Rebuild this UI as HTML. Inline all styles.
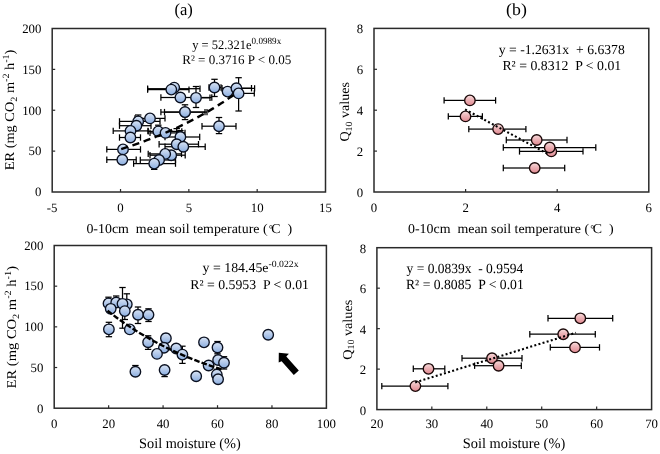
<!DOCTYPE html>
<html><head><meta charset="utf-8"><style>
html,body{margin:0;padding:0;background:#fff;width:660px;height:454px;overflow:hidden;}
svg{display:block;white-space:pre;will-change:transform;}
text{white-space:pre;text-rendering:geometricPrecision;}
</style></head><body>
<svg width="660" height="454" viewBox="0 0 660 454" font-family='"Liberation Serif", serif' fill="#000">
<defs>
<linearGradient id="gb" x1="0" y1="0" x2="0" y2="1">
<stop offset="0" stop-color="#d8e4f4"/><stop offset="0.5" stop-color="#b2c8ea"/><stop offset="1" stop-color="#8aaee0"/></linearGradient>
<linearGradient id="gr" x1="0" y1="0" x2="0" y2="1">
<stop offset="0" stop-color="#f7dede"/><stop offset="0.45" stop-color="#ecb2b6"/><stop offset="1" stop-color="#e08890"/></linearGradient>
</defs>
<rect width="660" height="454" fill="#fff"/>
<text x="52.20" y="212.00" font-size="12.8" text-anchor="middle" >-5</text>
<line x1="120.53" y1="192.00" x2="120.53" y2="189.00" stroke="#2a2a2a" stroke-width="1.2" />
<text x="120.53" y="212.00" font-size="12.8" text-anchor="middle" >0</text>
<line x1="188.85" y1="192.00" x2="188.85" y2="189.00" stroke="#2a2a2a" stroke-width="1.2" />
<text x="188.85" y="212.00" font-size="12.8" text-anchor="middle" >5</text>
<line x1="257.18" y1="192.00" x2="257.18" y2="189.00" stroke="#2a2a2a" stroke-width="1.2" />
<text x="257.18" y="212.00" font-size="12.8" text-anchor="middle" >10</text>
<text x="325.50" y="212.00" font-size="12.8" text-anchor="middle" >15</text>
<text x="41.40" y="196.30" font-size="12.8" text-anchor="end" >0</text>
<line x1="52.20" y1="151.12" x2="55.20" y2="151.12" stroke="#2a2a2a" stroke-width="1.2" />
<text x="41.40" y="155.43" font-size="12.8" text-anchor="end" >50</text>
<line x1="52.20" y1="110.25" x2="55.20" y2="110.25" stroke="#2a2a2a" stroke-width="1.2" />
<text x="41.40" y="114.55" font-size="12.8" text-anchor="end" >100</text>
<line x1="52.20" y1="69.38" x2="55.20" y2="69.38" stroke="#2a2a2a" stroke-width="1.2" />
<text x="41.40" y="73.67" font-size="12.8" text-anchor="end" >150</text>
<text x="41.40" y="32.80" font-size="12.8" text-anchor="end" >200</text>
<rect x="52.20" y="28.50" width="273.30" height="163.50" fill="none" stroke="#2a2a2a" stroke-width="1.5"/>
<line x1="147.60" y1="89.60" x2="171.30" y2="89.60" stroke="#000" stroke-width="1.25" />
<line x1="147.60" y1="86.40" x2="147.60" y2="92.80" stroke="#000" stroke-width="1.25" />
<line x1="171.30" y1="89.60" x2="189.00" y2="89.60" stroke="#000" stroke-width="1.25" />
<line x1="189.00" y1="86.40" x2="189.00" y2="92.80" stroke="#000" stroke-width="1.25" />
<line x1="160.90" y1="97.50" x2="180.40" y2="97.50" stroke="#000" stroke-width="1.25" />
<line x1="160.90" y1="94.30" x2="160.90" y2="100.70" stroke="#000" stroke-width="1.25" />
<line x1="180.40" y1="97.50" x2="211.80" y2="97.50" stroke="#000" stroke-width="1.25" />
<line x1="211.80" y1="94.30" x2="211.80" y2="100.70" stroke="#000" stroke-width="1.25" />
<line x1="196.00" y1="97.80" x2="210.00" y2="97.80" stroke="#000" stroke-width="1.25" />
<line x1="210.00" y1="94.60" x2="210.00" y2="101.00" stroke="#000" stroke-width="1.25" />
<line x1="196.00" y1="86.50" x2="196.00" y2="97.80" stroke="#000" stroke-width="1.25" />
<line x1="192.80" y1="86.50" x2="199.20" y2="86.50" stroke="#000" stroke-width="1.25" />
<line x1="196.00" y1="97.80" x2="196.00" y2="107.50" stroke="#000" stroke-width="1.25" />
<line x1="192.80" y1="107.50" x2="199.20" y2="107.50" stroke="#000" stroke-width="1.25" />
<line x1="209.00" y1="87.50" x2="214.50" y2="87.50" stroke="#000" stroke-width="1.25" />
<line x1="209.00" y1="84.30" x2="209.00" y2="90.70" stroke="#000" stroke-width="1.25" />
<line x1="214.50" y1="87.50" x2="221.00" y2="87.50" stroke="#000" stroke-width="1.25" />
<line x1="221.00" y1="84.30" x2="221.00" y2="90.70" stroke="#000" stroke-width="1.25" />
<line x1="214.50" y1="79.30" x2="214.50" y2="87.50" stroke="#000" stroke-width="1.25" />
<line x1="211.30" y1="79.30" x2="217.70" y2="79.30" stroke="#000" stroke-width="1.25" />
<line x1="214.50" y1="87.50" x2="214.50" y2="96.50" stroke="#000" stroke-width="1.25" />
<line x1="211.30" y1="96.50" x2="217.70" y2="96.50" stroke="#000" stroke-width="1.25" />
<line x1="222.00" y1="88.20" x2="236.40" y2="88.20" stroke="#000" stroke-width="1.25" />
<line x1="222.00" y1="85.00" x2="222.00" y2="91.40" stroke="#000" stroke-width="1.25" />
<line x1="236.40" y1="88.20" x2="251.50" y2="88.20" stroke="#000" stroke-width="1.25" />
<line x1="251.50" y1="85.00" x2="251.50" y2="91.40" stroke="#000" stroke-width="1.25" />
<line x1="238.60" y1="93.40" x2="254.30" y2="93.40" stroke="#000" stroke-width="1.25" />
<line x1="254.30" y1="90.20" x2="254.30" y2="96.60" stroke="#000" stroke-width="1.25" />
<line x1="238.60" y1="77.70" x2="238.60" y2="93.40" stroke="#000" stroke-width="1.25" />
<line x1="235.40" y1="77.70" x2="241.80" y2="77.70" stroke="#000" stroke-width="1.25" />
<line x1="238.60" y1="93.40" x2="238.60" y2="111.00" stroke="#000" stroke-width="1.25" />
<line x1="235.40" y1="111.00" x2="241.80" y2="111.00" stroke="#000" stroke-width="1.25" />
<line x1="160.90" y1="112.10" x2="185.00" y2="112.10" stroke="#000" stroke-width="1.25" />
<line x1="160.90" y1="108.90" x2="160.90" y2="115.30" stroke="#000" stroke-width="1.25" />
<line x1="185.00" y1="112.10" x2="207.00" y2="112.10" stroke="#000" stroke-width="1.25" />
<line x1="207.00" y1="108.90" x2="207.00" y2="115.30" stroke="#000" stroke-width="1.25" />
<line x1="185.00" y1="104.80" x2="185.00" y2="112.10" stroke="#000" stroke-width="1.25" />
<line x1="181.80" y1="104.80" x2="188.20" y2="104.80" stroke="#000" stroke-width="1.25" />
<line x1="185.00" y1="112.10" x2="185.00" y2="119.60" stroke="#000" stroke-width="1.25" />
<line x1="181.80" y1="119.60" x2="188.20" y2="119.60" stroke="#000" stroke-width="1.25" />
<line x1="164.50" y1="112.10" x2="185.00" y2="112.10" stroke="#000" stroke-width="1.25" />
<line x1="164.50" y1="108.90" x2="164.50" y2="115.30" stroke="#000" stroke-width="1.25" />
<line x1="185.00" y1="112.10" x2="205.00" y2="112.10" stroke="#000" stroke-width="1.25" />
<line x1="205.00" y1="108.90" x2="205.00" y2="115.30" stroke="#000" stroke-width="1.25" />
<line x1="202.00" y1="126.20" x2="219.00" y2="126.20" stroke="#000" stroke-width="1.25" />
<line x1="202.00" y1="123.00" x2="202.00" y2="129.40" stroke="#000" stroke-width="1.25" />
<line x1="219.00" y1="126.20" x2="236.00" y2="126.20" stroke="#000" stroke-width="1.25" />
<line x1="236.00" y1="123.00" x2="236.00" y2="129.40" stroke="#000" stroke-width="1.25" />
<line x1="219.00" y1="117.50" x2="219.00" y2="126.20" stroke="#000" stroke-width="1.25" />
<line x1="215.80" y1="117.50" x2="222.20" y2="117.50" stroke="#000" stroke-width="1.25" />
<line x1="219.00" y1="126.20" x2="219.00" y2="133.60" stroke="#000" stroke-width="1.25" />
<line x1="215.80" y1="133.60" x2="222.20" y2="133.60" stroke="#000" stroke-width="1.25" />
<line x1="119.50" y1="121.40" x2="138.20" y2="121.40" stroke="#000" stroke-width="1.25" />
<line x1="119.50" y1="118.20" x2="119.50" y2="124.60" stroke="#000" stroke-width="1.25" />
<line x1="138.20" y1="121.40" x2="160.00" y2="121.40" stroke="#000" stroke-width="1.25" />
<line x1="160.00" y1="118.20" x2="160.00" y2="124.60" stroke="#000" stroke-width="1.25" />
<line x1="138.20" y1="115.00" x2="138.20" y2="121.40" stroke="#000" stroke-width="1.25" />
<line x1="135.00" y1="115.00" x2="141.40" y2="115.00" stroke="#000" stroke-width="1.25" />
<line x1="119.50" y1="125.70" x2="136.40" y2="125.70" stroke="#000" stroke-width="1.25" />
<line x1="119.50" y1="122.50" x2="119.50" y2="128.90" stroke="#000" stroke-width="1.25" />
<line x1="136.40" y1="125.70" x2="151.00" y2="125.70" stroke="#000" stroke-width="1.25" />
<line x1="151.00" y1="122.50" x2="151.00" y2="128.90" stroke="#000" stroke-width="1.25" />
<line x1="135.00" y1="118.40" x2="150.00" y2="118.40" stroke="#000" stroke-width="1.25" />
<line x1="135.00" y1="115.20" x2="135.00" y2="121.60" stroke="#000" stroke-width="1.25" />
<line x1="150.00" y1="118.40" x2="165.00" y2="118.40" stroke="#000" stroke-width="1.25" />
<line x1="165.00" y1="115.20" x2="165.00" y2="121.60" stroke="#000" stroke-width="1.25" />
<line x1="113.20" y1="130.90" x2="130.50" y2="130.90" stroke="#000" stroke-width="1.25" />
<line x1="113.20" y1="127.70" x2="113.20" y2="134.10" stroke="#000" stroke-width="1.25" />
<line x1="130.50" y1="130.90" x2="148.00" y2="130.90" stroke="#000" stroke-width="1.25" />
<line x1="148.00" y1="127.70" x2="148.00" y2="134.10" stroke="#000" stroke-width="1.25" />
<line x1="119.50" y1="137.50" x2="130.40" y2="137.50" stroke="#000" stroke-width="1.25" />
<line x1="119.50" y1="134.30" x2="119.50" y2="140.70" stroke="#000" stroke-width="1.25" />
<line x1="130.40" y1="137.50" x2="140.50" y2="137.50" stroke="#000" stroke-width="1.25" />
<line x1="140.50" y1="134.30" x2="140.50" y2="140.70" stroke="#000" stroke-width="1.25" />
<line x1="106.80" y1="149.40" x2="123.00" y2="149.40" stroke="#000" stroke-width="1.25" />
<line x1="106.80" y1="146.20" x2="106.80" y2="152.60" stroke="#000" stroke-width="1.25" />
<line x1="123.00" y1="149.40" x2="140.50" y2="149.40" stroke="#000" stroke-width="1.25" />
<line x1="140.50" y1="146.20" x2="140.50" y2="152.60" stroke="#000" stroke-width="1.25" />
<line x1="106.80" y1="159.70" x2="122.30" y2="159.70" stroke="#000" stroke-width="1.25" />
<line x1="106.80" y1="156.50" x2="106.80" y2="162.90" stroke="#000" stroke-width="1.25" />
<line x1="122.30" y1="159.70" x2="136.20" y2="159.70" stroke="#000" stroke-width="1.25" />
<line x1="136.20" y1="156.50" x2="136.20" y2="162.90" stroke="#000" stroke-width="1.25" />
<line x1="148.20" y1="131.40" x2="158.30" y2="131.40" stroke="#000" stroke-width="1.25" />
<line x1="148.20" y1="128.20" x2="148.20" y2="134.60" stroke="#000" stroke-width="1.25" />
<line x1="158.30" y1="131.40" x2="181.80" y2="131.40" stroke="#000" stroke-width="1.25" />
<line x1="181.80" y1="128.20" x2="181.80" y2="134.60" stroke="#000" stroke-width="1.25" />
<line x1="158.30" y1="125.20" x2="158.30" y2="131.40" stroke="#000" stroke-width="1.25" />
<line x1="155.10" y1="125.20" x2="161.50" y2="125.20" stroke="#000" stroke-width="1.25" />
<line x1="150.00" y1="132.90" x2="165.50" y2="132.90" stroke="#000" stroke-width="1.25" />
<line x1="150.00" y1="129.70" x2="150.00" y2="136.10" stroke="#000" stroke-width="1.25" />
<line x1="165.50" y1="132.90" x2="185.00" y2="132.90" stroke="#000" stroke-width="1.25" />
<line x1="185.00" y1="129.70" x2="185.00" y2="136.10" stroke="#000" stroke-width="1.25" />
<line x1="165.00" y1="137.00" x2="180.40" y2="137.00" stroke="#000" stroke-width="1.25" />
<line x1="165.00" y1="133.80" x2="165.00" y2="140.20" stroke="#000" stroke-width="1.25" />
<line x1="180.40" y1="137.00" x2="199.70" y2="137.00" stroke="#000" stroke-width="1.25" />
<line x1="199.70" y1="133.80" x2="199.70" y2="140.20" stroke="#000" stroke-width="1.25" />
<line x1="180.40" y1="130.60" x2="180.40" y2="137.00" stroke="#000" stroke-width="1.25" />
<line x1="177.20" y1="130.60" x2="183.60" y2="130.60" stroke="#000" stroke-width="1.25" />
<line x1="159.10" y1="144.20" x2="176.70" y2="144.20" stroke="#000" stroke-width="1.25" />
<line x1="159.10" y1="141.00" x2="159.10" y2="147.40" stroke="#000" stroke-width="1.25" />
<line x1="176.70" y1="144.20" x2="198.50" y2="144.20" stroke="#000" stroke-width="1.25" />
<line x1="198.50" y1="141.00" x2="198.50" y2="147.40" stroke="#000" stroke-width="1.25" />
<line x1="176.70" y1="128.60" x2="176.70" y2="144.20" stroke="#000" stroke-width="1.25" />
<line x1="173.50" y1="128.60" x2="179.90" y2="128.60" stroke="#000" stroke-width="1.25" />
<line x1="165.00" y1="146.70" x2="183.30" y2="146.70" stroke="#000" stroke-width="1.25" />
<line x1="165.00" y1="143.50" x2="165.00" y2="149.90" stroke="#000" stroke-width="1.25" />
<line x1="183.30" y1="146.70" x2="205.20" y2="146.70" stroke="#000" stroke-width="1.25" />
<line x1="205.20" y1="143.50" x2="205.20" y2="149.90" stroke="#000" stroke-width="1.25" />
<line x1="150.00" y1="155.20" x2="171.20" y2="155.20" stroke="#000" stroke-width="1.25" />
<line x1="150.00" y1="152.00" x2="150.00" y2="158.40" stroke="#000" stroke-width="1.25" />
<line x1="171.20" y1="155.20" x2="185.20" y2="155.20" stroke="#000" stroke-width="1.25" />
<line x1="185.20" y1="152.00" x2="185.20" y2="158.40" stroke="#000" stroke-width="1.25" />
<line x1="148.20" y1="153.90" x2="165.20" y2="153.90" stroke="#000" stroke-width="1.25" />
<line x1="148.20" y1="150.70" x2="148.20" y2="157.10" stroke="#000" stroke-width="1.25" />
<line x1="165.20" y1="153.90" x2="181.50" y2="153.90" stroke="#000" stroke-width="1.25" />
<line x1="181.50" y1="150.70" x2="181.50" y2="157.10" stroke="#000" stroke-width="1.25" />
<line x1="140.30" y1="160.00" x2="159.10" y2="160.00" stroke="#000" stroke-width="1.25" />
<line x1="140.30" y1="156.80" x2="140.30" y2="163.20" stroke="#000" stroke-width="1.25" />
<line x1="159.10" y1="160.00" x2="175.50" y2="160.00" stroke="#000" stroke-width="1.25" />
<line x1="175.50" y1="156.80" x2="175.50" y2="163.20" stroke="#000" stroke-width="1.25" />
<line x1="133.60" y1="163.60" x2="154.20" y2="163.60" stroke="#000" stroke-width="1.25" />
<line x1="133.60" y1="160.40" x2="133.60" y2="166.80" stroke="#000" stroke-width="1.25" />
<line x1="154.20" y1="163.60" x2="175.50" y2="163.60" stroke="#000" stroke-width="1.25" />
<line x1="175.50" y1="160.40" x2="175.50" y2="166.80" stroke="#000" stroke-width="1.25" />
<line x1="154.20" y1="163.60" x2="154.20" y2="169.40" stroke="#000" stroke-width="1.25" />
<line x1="151.00" y1="169.40" x2="157.40" y2="169.40" stroke="#000" stroke-width="1.25" />
<line x1="147.60" y1="88.70" x2="175.30" y2="88.70" stroke="#000" stroke-width="1.25" />
<line x1="147.60" y1="85.50" x2="147.60" y2="91.90" stroke="#000" stroke-width="1.25" />
<line x1="175.30" y1="88.70" x2="200.00" y2="88.70" stroke="#000" stroke-width="1.25" />
<line x1="200.00" y1="85.50" x2="200.00" y2="91.90" stroke="#000" stroke-width="1.25" />
<line x1="236.40" y1="88.40" x2="254.60" y2="88.40" stroke="#000" stroke-width="1.25" />
<line x1="254.60" y1="85.20" x2="254.60" y2="91.60" stroke="#000" stroke-width="1.25" />
<circle cx="174.20" cy="87.60" r="5.25" fill="url(#gb)" stroke="#0a1020" stroke-width="1.35"/>
<circle cx="171.30" cy="89.60" r="5.25" fill="url(#gb)" stroke="#0a1020" stroke-width="1.35"/>
<circle cx="180.40" cy="97.50" r="5.25" fill="url(#gb)" stroke="#0a1020" stroke-width="1.35"/>
<circle cx="196.00" cy="97.80" r="5.25" fill="url(#gb)" stroke="#0a1020" stroke-width="1.35"/>
<circle cx="214.50" cy="87.50" r="5.25" fill="url(#gb)" stroke="#0a1020" stroke-width="1.35"/>
<circle cx="227.60" cy="91.60" r="5.25" fill="url(#gb)" stroke="#0a1020" stroke-width="1.35"/>
<circle cx="236.40" cy="88.20" r="5.25" fill="url(#gb)" stroke="#0a1020" stroke-width="1.35"/>
<circle cx="238.60" cy="93.40" r="5.25" fill="url(#gb)" stroke="#0a1020" stroke-width="1.35"/>
<circle cx="185.00" cy="112.10" r="5.25" fill="url(#gb)" stroke="#0a1020" stroke-width="1.35"/>
<circle cx="185.00" cy="112.10" r="5.25" fill="url(#gb)" stroke="#0a1020" stroke-width="1.35"/>
<circle cx="219.00" cy="126.20" r="5.25" fill="url(#gb)" stroke="#0a1020" stroke-width="1.35"/>
<circle cx="138.20" cy="121.40" r="5.25" fill="url(#gb)" stroke="#0a1020" stroke-width="1.35"/>
<circle cx="136.40" cy="125.70" r="5.25" fill="url(#gb)" stroke="#0a1020" stroke-width="1.35"/>
<circle cx="150.00" cy="118.40" r="5.25" fill="url(#gb)" stroke="#0a1020" stroke-width="1.35"/>
<circle cx="130.50" cy="130.90" r="5.25" fill="url(#gb)" stroke="#0a1020" stroke-width="1.35"/>
<circle cx="130.40" cy="137.50" r="5.25" fill="url(#gb)" stroke="#0a1020" stroke-width="1.35"/>
<circle cx="123.00" cy="149.40" r="5.25" fill="url(#gb)" stroke="#0a1020" stroke-width="1.35"/>
<circle cx="122.30" cy="159.70" r="5.25" fill="url(#gb)" stroke="#0a1020" stroke-width="1.35"/>
<circle cx="158.30" cy="131.40" r="5.25" fill="url(#gb)" stroke="#0a1020" stroke-width="1.35"/>
<circle cx="165.50" cy="132.90" r="5.25" fill="url(#gb)" stroke="#0a1020" stroke-width="1.35"/>
<circle cx="180.40" cy="137.00" r="5.25" fill="url(#gb)" stroke="#0a1020" stroke-width="1.35"/>
<circle cx="176.70" cy="144.20" r="5.25" fill="url(#gb)" stroke="#0a1020" stroke-width="1.35"/>
<circle cx="183.30" cy="146.70" r="5.25" fill="url(#gb)" stroke="#0a1020" stroke-width="1.35"/>
<circle cx="171.20" cy="155.20" r="5.25" fill="url(#gb)" stroke="#0a1020" stroke-width="1.35"/>
<circle cx="165.20" cy="153.90" r="5.25" fill="url(#gb)" stroke="#0a1020" stroke-width="1.35"/>
<circle cx="159.10" cy="160.00" r="5.25" fill="url(#gb)" stroke="#0a1020" stroke-width="1.35"/>
<circle cx="154.20" cy="163.60" r="5.25" fill="url(#gb)" stroke="#0a1020" stroke-width="1.35"/>
<polyline points="121.21,149.02 124.07,148.12 126.93,147.20 129.79,146.26 132.65,145.31 135.51,144.33 138.36,143.33 141.22,142.32 144.08,141.28 146.94,140.22 149.80,139.13 152.66,138.03 155.52,136.90 158.38,135.75 161.24,134.57 164.10,133.37 166.96,132.14 169.82,130.89 172.68,129.61 175.54,128.31 178.40,126.98 181.26,125.62 184.12,124.23 186.97,122.81 189.83,121.37 192.69,119.89 195.55,118.38 198.41,116.84 201.27,115.27 204.13,113.67 206.99,112.03 209.85,110.36 212.71,108.65 215.57,106.91 218.43,105.13 221.29,103.31 224.15,101.45 227.01,99.56 229.87,97.63 232.72,95.65 235.58,93.64" fill="none" stroke="#000" stroke-width="2.4" stroke-dasharray="7.2,4.6"/>
<text x="374.00" y="212.20" font-size="12.8" text-anchor="middle" >0</text>
<line x1="465.60" y1="192.00" x2="465.60" y2="189.00" stroke="#2a2a2a" stroke-width="1.2" />
<text x="465.60" y="212.20" font-size="12.8" text-anchor="middle" >2</text>
<line x1="557.20" y1="192.00" x2="557.20" y2="189.00" stroke="#2a2a2a" stroke-width="1.2" />
<text x="557.20" y="212.20" font-size="12.8" text-anchor="middle" >4</text>
<text x="648.80" y="212.20" font-size="12.8" text-anchor="middle" >6</text>
<text x="363.20" y="196.80" font-size="12.8" text-anchor="end" >0</text>
<line x1="374.00" y1="151.10" x2="377.00" y2="151.10" stroke="#2a2a2a" stroke-width="1.2" />
<text x="363.20" y="155.90" font-size="12.8" text-anchor="end" >2</text>
<line x1="374.00" y1="110.20" x2="377.00" y2="110.20" stroke="#2a2a2a" stroke-width="1.2" />
<text x="363.20" y="115.00" font-size="12.8" text-anchor="end" >4</text>
<line x1="374.00" y1="69.30" x2="377.00" y2="69.30" stroke="#2a2a2a" stroke-width="1.2" />
<text x="363.20" y="74.10" font-size="12.8" text-anchor="end" >6</text>
<text x="363.20" y="33.20" font-size="12.8" text-anchor="end" >8</text>
<rect x="374.00" y="28.40" width="274.80" height="163.60" fill="none" stroke="#2a2a2a" stroke-width="1.5"/>
<line x1="444.10" y1="100.40" x2="469.90" y2="100.40" stroke="#000" stroke-width="1.25" />
<line x1="444.10" y1="97.20" x2="444.10" y2="103.60" stroke="#000" stroke-width="1.25" />
<line x1="469.90" y1="100.40" x2="495.60" y2="100.40" stroke="#000" stroke-width="1.25" />
<line x1="495.60" y1="97.20" x2="495.60" y2="103.60" stroke="#000" stroke-width="1.25" />
<line x1="448.30" y1="116.40" x2="465.50" y2="116.40" stroke="#000" stroke-width="1.25" />
<line x1="448.30" y1="113.20" x2="448.30" y2="119.60" stroke="#000" stroke-width="1.25" />
<line x1="465.50" y1="116.40" x2="482.40" y2="116.40" stroke="#000" stroke-width="1.25" />
<line x1="482.40" y1="113.20" x2="482.40" y2="119.60" stroke="#000" stroke-width="1.25" />
<line x1="468.80" y1="129.10" x2="498.10" y2="129.10" stroke="#000" stroke-width="1.25" />
<line x1="468.80" y1="125.90" x2="468.80" y2="132.30" stroke="#000" stroke-width="1.25" />
<line x1="498.10" y1="129.10" x2="525.90" y2="129.10" stroke="#000" stroke-width="1.25" />
<line x1="525.90" y1="125.90" x2="525.90" y2="132.30" stroke="#000" stroke-width="1.25" />
<line x1="506.30" y1="140.00" x2="536.70" y2="140.00" stroke="#000" stroke-width="1.25" />
<line x1="506.30" y1="136.80" x2="506.30" y2="143.20" stroke="#000" stroke-width="1.25" />
<line x1="536.70" y1="140.00" x2="567.00" y2="140.00" stroke="#000" stroke-width="1.25" />
<line x1="567.00" y1="136.80" x2="567.00" y2="143.20" stroke="#000" stroke-width="1.25" />
<line x1="519.50" y1="151.40" x2="551.30" y2="151.40" stroke="#000" stroke-width="1.25" />
<line x1="519.50" y1="148.20" x2="519.50" y2="154.60" stroke="#000" stroke-width="1.25" />
<line x1="551.30" y1="151.40" x2="583.00" y2="151.40" stroke="#000" stroke-width="1.25" />
<line x1="583.00" y1="148.20" x2="583.00" y2="154.60" stroke="#000" stroke-width="1.25" />
<line x1="503.30" y1="147.50" x2="549.70" y2="147.50" stroke="#000" stroke-width="1.25" />
<line x1="503.30" y1="144.30" x2="503.30" y2="150.70" stroke="#000" stroke-width="1.25" />
<line x1="549.70" y1="147.50" x2="595.80" y2="147.50" stroke="#000" stroke-width="1.25" />
<line x1="595.80" y1="144.30" x2="595.80" y2="150.70" stroke="#000" stroke-width="1.25" />
<line x1="503.30" y1="168.00" x2="534.70" y2="168.00" stroke="#000" stroke-width="1.25" />
<line x1="503.30" y1="164.80" x2="503.30" y2="171.20" stroke="#000" stroke-width="1.25" />
<line x1="534.70" y1="168.00" x2="564.70" y2="168.00" stroke="#000" stroke-width="1.25" />
<line x1="564.70" y1="164.80" x2="564.70" y2="171.20" stroke="#000" stroke-width="1.25" />
<circle cx="469.90" cy="100.40" r="5.25" fill="url(#gr)" stroke="#1a0808" stroke-width="1.35"/>
<circle cx="465.50" cy="116.40" r="5.25" fill="url(#gr)" stroke="#1a0808" stroke-width="1.35"/>
<circle cx="498.10" cy="129.10" r="5.25" fill="url(#gr)" stroke="#1a0808" stroke-width="1.35"/>
<circle cx="536.70" cy="140.00" r="5.25" fill="url(#gr)" stroke="#1a0808" stroke-width="1.35"/>
<circle cx="551.30" cy="151.40" r="5.25" fill="url(#gr)" stroke="#1a0808" stroke-width="1.35"/>
<circle cx="549.70" cy="147.50" r="5.25" fill="url(#gr)" stroke="#1a0808" stroke-width="1.35"/>
<circle cx="534.70" cy="168.00" r="5.25" fill="url(#gr)" stroke="#1a0808" stroke-width="1.35"/>
<line x1="465.1" y1="109.4" x2="548" y2="154" stroke="#000" stroke-width="2.1" stroke-dasharray="2,2.35"/>
<text x="54.20" y="428.10" font-size="12.8" text-anchor="middle" >0</text>
<line x1="108.64" y1="408.20" x2="108.64" y2="405.20" stroke="#2a2a2a" stroke-width="1.2" />
<text x="108.64" y="428.10" font-size="12.8" text-anchor="middle" >20</text>
<line x1="163.08" y1="408.20" x2="163.08" y2="405.20" stroke="#2a2a2a" stroke-width="1.2" />
<text x="163.08" y="428.10" font-size="12.8" text-anchor="middle" >40</text>
<line x1="217.52" y1="408.20" x2="217.52" y2="405.20" stroke="#2a2a2a" stroke-width="1.2" />
<text x="217.52" y="428.10" font-size="12.8" text-anchor="middle" >60</text>
<line x1="271.96" y1="408.20" x2="271.96" y2="405.20" stroke="#2a2a2a" stroke-width="1.2" />
<text x="271.96" y="428.10" font-size="12.8" text-anchor="middle" >80</text>
<text x="326.40" y="428.10" font-size="12.8" text-anchor="middle" >100</text>
<text x="43.40" y="412.50" font-size="12.8" text-anchor="end" >0</text>
<line x1="54.20" y1="367.52" x2="57.20" y2="367.52" stroke="#2a2a2a" stroke-width="1.2" />
<text x="43.40" y="371.82" font-size="12.8" text-anchor="end" >50</text>
<line x1="54.20" y1="326.85" x2="57.20" y2="326.85" stroke="#2a2a2a" stroke-width="1.2" />
<text x="43.40" y="331.15" font-size="12.8" text-anchor="end" >100</text>
<line x1="54.20" y1="286.18" x2="57.20" y2="286.18" stroke="#2a2a2a" stroke-width="1.2" />
<text x="43.40" y="290.48" font-size="12.8" text-anchor="end" >150</text>
<text x="43.40" y="249.80" font-size="12.8" text-anchor="end" >200</text>
<rect x="54.20" y="245.50" width="272.20" height="162.70" fill="none" stroke="#2a2a2a" stroke-width="1.5"/>
<line x1="108.50" y1="297.20" x2="108.50" y2="303.40" stroke="#000" stroke-width="1.25" />
<line x1="105.30" y1="297.20" x2="111.70" y2="297.20" stroke="#000" stroke-width="1.25" />
<line x1="116.20" y1="296.00" x2="116.20" y2="302.50" stroke="#000" stroke-width="1.25" />
<line x1="113.00" y1="296.00" x2="119.40" y2="296.00" stroke="#000" stroke-width="1.25" />
<line x1="126.80" y1="293.80" x2="126.80" y2="304.30" stroke="#000" stroke-width="1.25" />
<line x1="123.60" y1="293.80" x2="130.00" y2="293.80" stroke="#000" stroke-width="1.25" />
<line x1="122.50" y1="287.50" x2="122.50" y2="303.80" stroke="#000" stroke-width="1.25" />
<line x1="119.30" y1="287.50" x2="125.70" y2="287.50" stroke="#000" stroke-width="1.25" />
<line x1="122.50" y1="303.80" x2="122.50" y2="328.20" stroke="#000" stroke-width="1.25" />
<line x1="119.30" y1="328.20" x2="125.70" y2="328.20" stroke="#000" stroke-width="1.25" />
<line x1="124.80" y1="311.10" x2="124.80" y2="319.50" stroke="#000" stroke-width="1.25" />
<line x1="121.60" y1="319.50" x2="128.00" y2="319.50" stroke="#000" stroke-width="1.25" />
<line x1="138.00" y1="307.00" x2="138.00" y2="314.70" stroke="#000" stroke-width="1.25" />
<line x1="134.80" y1="307.00" x2="141.20" y2="307.00" stroke="#000" stroke-width="1.25" />
<line x1="138.00" y1="314.70" x2="138.00" y2="323.50" stroke="#000" stroke-width="1.25" />
<line x1="134.80" y1="323.50" x2="141.20" y2="323.50" stroke="#000" stroke-width="1.25" />
<line x1="148.50" y1="308.80" x2="148.50" y2="314.70" stroke="#000" stroke-width="1.25" />
<line x1="145.30" y1="308.80" x2="151.70" y2="308.80" stroke="#000" stroke-width="1.25" />
<line x1="148.50" y1="314.70" x2="148.50" y2="321.50" stroke="#000" stroke-width="1.25" />
<line x1="145.30" y1="321.50" x2="151.70" y2="321.50" stroke="#000" stroke-width="1.25" />
<line x1="108.90" y1="322.30" x2="108.90" y2="329.30" stroke="#000" stroke-width="1.25" />
<line x1="105.70" y1="322.30" x2="112.10" y2="322.30" stroke="#000" stroke-width="1.25" />
<line x1="108.90" y1="329.30" x2="108.90" y2="336.70" stroke="#000" stroke-width="1.25" />
<line x1="105.70" y1="336.70" x2="112.10" y2="336.70" stroke="#000" stroke-width="1.25" />
<line x1="148.10" y1="335.80" x2="148.10" y2="342.20" stroke="#000" stroke-width="1.25" />
<line x1="144.90" y1="335.80" x2="151.30" y2="335.80" stroke="#000" stroke-width="1.25" />
<line x1="148.10" y1="342.20" x2="148.10" y2="349.40" stroke="#000" stroke-width="1.25" />
<line x1="144.90" y1="349.40" x2="151.30" y2="349.40" stroke="#000" stroke-width="1.25" />
<line x1="165.90" y1="333.60" x2="165.90" y2="338.20" stroke="#000" stroke-width="1.25" />
<line x1="162.70" y1="333.60" x2="169.10" y2="333.60" stroke="#000" stroke-width="1.25" />
<line x1="182.40" y1="346.20" x2="182.40" y2="354.60" stroke="#000" stroke-width="1.25" />
<line x1="179.20" y1="346.20" x2="185.60" y2="346.20" stroke="#000" stroke-width="1.25" />
<line x1="182.40" y1="354.60" x2="182.40" y2="363.40" stroke="#000" stroke-width="1.25" />
<line x1="179.20" y1="363.40" x2="185.60" y2="363.40" stroke="#000" stroke-width="1.25" />
<line x1="164.60" y1="370.00" x2="164.60" y2="376.60" stroke="#000" stroke-width="1.25" />
<line x1="161.40" y1="376.60" x2="167.80" y2="376.60" stroke="#000" stroke-width="1.25" />
<line x1="135.40" y1="365.50" x2="135.40" y2="371.70" stroke="#000" stroke-width="1.25" />
<line x1="132.20" y1="365.50" x2="138.60" y2="365.50" stroke="#000" stroke-width="1.25" />
<line x1="217.50" y1="341.50" x2="217.50" y2="347.50" stroke="#000" stroke-width="1.25" />
<line x1="214.30" y1="341.50" x2="220.70" y2="341.50" stroke="#000" stroke-width="1.25" />
<line x1="217.50" y1="347.50" x2="217.50" y2="353.80" stroke="#000" stroke-width="1.25" />
<line x1="214.30" y1="353.80" x2="220.70" y2="353.80" stroke="#000" stroke-width="1.25" />
<line x1="224.00" y1="356.70" x2="224.00" y2="362.70" stroke="#000" stroke-width="1.25" />
<line x1="220.80" y1="356.70" x2="227.20" y2="356.70" stroke="#000" stroke-width="1.25" />
<line x1="224.00" y1="362.70" x2="224.00" y2="369.00" stroke="#000" stroke-width="1.25" />
<line x1="220.80" y1="369.00" x2="227.20" y2="369.00" stroke="#000" stroke-width="1.25" />
<line x1="216.80" y1="369.30" x2="216.80" y2="374.60" stroke="#000" stroke-width="1.25" />
<line x1="213.60" y1="369.30" x2="220.00" y2="369.30" stroke="#000" stroke-width="1.25" />
<circle cx="108.50" cy="303.40" r="5.25" fill="url(#gb)" stroke="#0a1020" stroke-width="1.35"/>
<circle cx="116.20" cy="302.50" r="5.25" fill="url(#gb)" stroke="#0a1020" stroke-width="1.35"/>
<circle cx="126.80" cy="304.30" r="5.25" fill="url(#gb)" stroke="#0a1020" stroke-width="1.35"/>
<circle cx="122.50" cy="303.80" r="5.25" fill="url(#gb)" stroke="#0a1020" stroke-width="1.35"/>
<circle cx="110.70" cy="308.80" r="5.25" fill="url(#gb)" stroke="#0a1020" stroke-width="1.35"/>
<circle cx="124.80" cy="311.10" r="5.25" fill="url(#gb)" stroke="#0a1020" stroke-width="1.35"/>
<circle cx="138.00" cy="314.70" r="5.25" fill="url(#gb)" stroke="#0a1020" stroke-width="1.35"/>
<circle cx="148.50" cy="314.70" r="5.25" fill="url(#gb)" stroke="#0a1020" stroke-width="1.35"/>
<circle cx="108.90" cy="329.30" r="5.25" fill="url(#gb)" stroke="#0a1020" stroke-width="1.35"/>
<circle cx="129.80" cy="329.40" r="5.25" fill="url(#gb)" stroke="#0a1020" stroke-width="1.35"/>
<circle cx="148.10" cy="342.20" r="5.25" fill="url(#gb)" stroke="#0a1020" stroke-width="1.35"/>
<circle cx="165.90" cy="338.20" r="5.25" fill="url(#gb)" stroke="#0a1020" stroke-width="1.35"/>
<circle cx="163.90" cy="347.70" r="5.25" fill="url(#gb)" stroke="#0a1020" stroke-width="1.35"/>
<circle cx="157.00" cy="353.90" r="5.25" fill="url(#gb)" stroke="#0a1020" stroke-width="1.35"/>
<circle cx="176.20" cy="348.50" r="5.25" fill="url(#gb)" stroke="#0a1020" stroke-width="1.35"/>
<circle cx="182.40" cy="354.60" r="5.25" fill="url(#gb)" stroke="#0a1020" stroke-width="1.35"/>
<circle cx="164.60" cy="370.00" r="5.25" fill="url(#gb)" stroke="#0a1020" stroke-width="1.35"/>
<circle cx="135.40" cy="371.70" r="5.25" fill="url(#gb)" stroke="#0a1020" stroke-width="1.35"/>
<circle cx="204.00" cy="342.30" r="5.25" fill="url(#gb)" stroke="#0a1020" stroke-width="1.35"/>
<circle cx="217.50" cy="347.50" r="5.25" fill="url(#gb)" stroke="#0a1020" stroke-width="1.35"/>
<circle cx="208.60" cy="365.50" r="5.25" fill="url(#gb)" stroke="#0a1020" stroke-width="1.35"/>
<circle cx="218.10" cy="360.00" r="5.25" fill="url(#gb)" stroke="#0a1020" stroke-width="1.35"/>
<circle cx="224.00" cy="362.70" r="5.25" fill="url(#gb)" stroke="#0a1020" stroke-width="1.35"/>
<circle cx="196.20" cy="376.20" r="5.25" fill="url(#gb)" stroke="#0a1020" stroke-width="1.35"/>
<circle cx="216.80" cy="374.60" r="5.25" fill="url(#gb)" stroke="#0a1020" stroke-width="1.35"/>
<circle cx="218.10" cy="379.20" r="5.25" fill="url(#gb)" stroke="#0a1020" stroke-width="1.35"/>
<circle cx="268.20" cy="334.70" r="5.25" fill="url(#gb)" stroke="#0a1020" stroke-width="1.35"/>
<polyline points="107.55,310.71 110.40,312.93 113.25,315.09 116.09,317.21 118.94,319.28 121.79,321.31 124.64,323.28 127.49,325.22 130.33,327.10 133.18,328.95 136.03,330.75 138.88,332.52 141.73,334.24 144.57,335.92 147.42,337.57 150.27,339.17 153.12,340.74 155.97,342.28 158.81,343.78 161.66,345.24 164.51,346.68 167.36,348.08 170.20,349.44 173.05,350.78 175.90,352.09 178.75,353.36 181.60,354.61 184.44,355.83 187.29,357.02 190.14,358.19 192.99,359.33 195.84,360.44 198.68,361.52 201.53,362.59 204.38,363.62 207.23,364.64 210.08,365.63 212.92,366.60 215.77,367.55 218.62,368.47 221.47,369.37" fill="none" stroke="#000" stroke-width="2.4" stroke-dasharray="5.6,2.1"/>
<polygon points="278.8,352.7 288.9,353.8 286.3,356.6 298.8,370.6 293.8,374.9 281.6,361.2 278.7,362.6" fill="#000"/>
<text x="376.90" y="427.90" font-size="12.8" text-anchor="middle" >20</text>
<line x1="431.84" y1="409.60" x2="431.84" y2="406.60" stroke="#2a2a2a" stroke-width="1.2" />
<text x="431.84" y="427.90" font-size="12.8" text-anchor="middle" >30</text>
<line x1="486.78" y1="409.60" x2="486.78" y2="406.60" stroke="#2a2a2a" stroke-width="1.2" />
<text x="486.78" y="427.90" font-size="12.8" text-anchor="middle" >40</text>
<line x1="541.72" y1="409.60" x2="541.72" y2="406.60" stroke="#2a2a2a" stroke-width="1.2" />
<text x="541.72" y="427.90" font-size="12.8" text-anchor="middle" >50</text>
<line x1="596.66" y1="409.60" x2="596.66" y2="406.60" stroke="#2a2a2a" stroke-width="1.2" />
<text x="596.66" y="427.90" font-size="12.8" text-anchor="middle" >60</text>
<text x="651.60" y="427.90" font-size="12.8" text-anchor="middle" >70</text>
<text x="366.10" y="414.50" font-size="12.8" text-anchor="end" >0</text>
<line x1="376.90" y1="369.12" x2="379.90" y2="369.12" stroke="#2a2a2a" stroke-width="1.2" />
<text x="366.10" y="374.02" font-size="12.8" text-anchor="end" >2</text>
<line x1="376.90" y1="328.65" x2="379.90" y2="328.65" stroke="#2a2a2a" stroke-width="1.2" />
<text x="366.10" y="333.55" font-size="12.8" text-anchor="end" >4</text>
<line x1="376.90" y1="288.18" x2="379.90" y2="288.18" stroke="#2a2a2a" stroke-width="1.2" />
<text x="366.10" y="293.07" font-size="12.8" text-anchor="end" >6</text>
<text x="366.10" y="252.60" font-size="12.8" text-anchor="end" >8</text>
<rect x="376.90" y="247.70" width="274.70" height="161.90" fill="none" stroke="#2a2a2a" stroke-width="1.5"/>
<line x1="548.00" y1="318.30" x2="580.30" y2="318.30" stroke="#000" stroke-width="1.25" />
<line x1="548.00" y1="315.10" x2="548.00" y2="321.50" stroke="#000" stroke-width="1.25" />
<line x1="580.30" y1="318.30" x2="612.70" y2="318.30" stroke="#000" stroke-width="1.25" />
<line x1="612.70" y1="315.10" x2="612.70" y2="321.50" stroke="#000" stroke-width="1.25" />
<line x1="529.80" y1="334.20" x2="563.20" y2="334.20" stroke="#000" stroke-width="1.25" />
<line x1="529.80" y1="331.00" x2="529.80" y2="337.40" stroke="#000" stroke-width="1.25" />
<line x1="563.20" y1="334.20" x2="595.30" y2="334.20" stroke="#000" stroke-width="1.25" />
<line x1="595.30" y1="331.00" x2="595.30" y2="337.40" stroke="#000" stroke-width="1.25" />
<line x1="550.30" y1="347.40" x2="575.00" y2="347.40" stroke="#000" stroke-width="1.25" />
<line x1="550.30" y1="344.20" x2="550.30" y2="350.60" stroke="#000" stroke-width="1.25" />
<line x1="575.00" y1="347.40" x2="599.50" y2="347.40" stroke="#000" stroke-width="1.25" />
<line x1="599.50" y1="344.20" x2="599.50" y2="350.60" stroke="#000" stroke-width="1.25" />
<line x1="462.00" y1="358.20" x2="492.00" y2="358.20" stroke="#000" stroke-width="1.25" />
<line x1="462.00" y1="355.00" x2="462.00" y2="361.40" stroke="#000" stroke-width="1.25" />
<line x1="492.00" y1="358.20" x2="522.00" y2="358.20" stroke="#000" stroke-width="1.25" />
<line x1="522.00" y1="355.00" x2="522.00" y2="361.40" stroke="#000" stroke-width="1.25" />
<line x1="474.60" y1="365.70" x2="498.60" y2="365.70" stroke="#000" stroke-width="1.25" />
<line x1="474.60" y1="362.50" x2="474.60" y2="368.90" stroke="#000" stroke-width="1.25" />
<line x1="498.60" y1="365.70" x2="521.30" y2="365.70" stroke="#000" stroke-width="1.25" />
<line x1="521.30" y1="362.50" x2="521.30" y2="368.90" stroke="#000" stroke-width="1.25" />
<line x1="413.30" y1="368.80" x2="428.50" y2="368.80" stroke="#000" stroke-width="1.25" />
<line x1="413.30" y1="365.60" x2="413.30" y2="372.00" stroke="#000" stroke-width="1.25" />
<line x1="428.50" y1="368.80" x2="444.80" y2="368.80" stroke="#000" stroke-width="1.25" />
<line x1="444.80" y1="365.60" x2="444.80" y2="372.00" stroke="#000" stroke-width="1.25" />
<line x1="381.80" y1="386.10" x2="415.40" y2="386.10" stroke="#000" stroke-width="1.25" />
<line x1="381.80" y1="382.90" x2="381.80" y2="389.30" stroke="#000" stroke-width="1.25" />
<line x1="415.40" y1="386.10" x2="447.90" y2="386.10" stroke="#000" stroke-width="1.25" />
<line x1="447.90" y1="382.90" x2="447.90" y2="389.30" stroke="#000" stroke-width="1.25" />
<circle cx="580.30" cy="318.30" r="5.25" fill="url(#gr)" stroke="#1a0808" stroke-width="1.35"/>
<circle cx="563.20" cy="334.20" r="5.25" fill="url(#gr)" stroke="#1a0808" stroke-width="1.35"/>
<circle cx="575.00" cy="347.40" r="5.25" fill="url(#gr)" stroke="#1a0808" stroke-width="1.35"/>
<circle cx="492.00" cy="358.20" r="5.25" fill="url(#gr)" stroke="#1a0808" stroke-width="1.35"/>
<circle cx="498.60" cy="365.70" r="5.25" fill="url(#gr)" stroke="#1a0808" stroke-width="1.35"/>
<circle cx="428.50" cy="368.80" r="5.25" fill="url(#gr)" stroke="#1a0808" stroke-width="1.35"/>
<circle cx="415.40" cy="386.10" r="5.25" fill="url(#gr)" stroke="#1a0808" stroke-width="1.35"/>
<line x1="415.2" y1="382.4" x2="576" y2="332.7" stroke="#000" stroke-width="2.1" stroke-dasharray="2,2.3"/>
<text x="174.40" y="14.60" font-size="17" textLength="18.40" lengthAdjust="spacingAndGlyphs">(a)</text>
<text x="506.10" y="15.10" font-size="17" textLength="20.70" lengthAdjust="spacingAndGlyphs">(b)</text>
<text x="192.20" y="48.70" font-size="13" textLength="89.00" lengthAdjust="spacingAndGlyphs">y = 52.321e<tspan dy="-4.4" font-size="9.5">0.0989x</tspan></text>
<text x="182.20" y="63.60" font-size="13" textLength="109.00" lengthAdjust="spacingAndGlyphs">R² = 0.3716 P &lt; 0.05</text>
<text x="498.80" y="53.90" font-size="13.7" textLength="126.00" lengthAdjust="spacingAndGlyphs">y = -1.2631x  + 6.6378</text>
<text x="502.40" y="70.40" font-size="13.7" textLength="118.80" lengthAdjust="spacingAndGlyphs">R² = 0.8312  P &lt; 0.01</text>
<text x="202.60" y="271.80" font-size="13.5" textLength="96.00" lengthAdjust="spacingAndGlyphs">y = 184.45e<tspan dy="-4.7" font-size="9.5">-0.022x</tspan></text>
<text x="190.20" y="288.50" font-size="13.5" textLength="118.80" lengthAdjust="spacingAndGlyphs">R² = 0.5953  P &lt; 0.01</text>
<text x="406.60" y="272.70" font-size="14" textLength="116.60" lengthAdjust="spacingAndGlyphs">y = 0.0839x  - 0.9594</text>
<text x="406.00" y="289.30" font-size="14" textLength="117.80" lengthAdjust="spacingAndGlyphs">R² = 0.8085  P &lt; 0.01</text>
<text x="86.40" y="232.60" font-size="13.5" textLength="205.80" lengthAdjust="spacingAndGlyphs">0-10cm  mean soil temperature (<tspan dx="1.2" font-size="10" dy="-0.6">°</tspan><tspan dx="-1.6" dy="0.6">C</tspan>  )</text>
<text x="408.00" y="232.70" font-size="13.5" textLength="205.60" lengthAdjust="spacingAndGlyphs">0-10cm  mean soil temperature (<tspan dx="1.2" font-size="10" dy="-0.6">°</tspan><tspan dx="-1.6" dy="0.6">C</tspan>  )</text>
<text x="139.10" y="447.90" font-size="14.5" textLength="101.70" lengthAdjust="spacingAndGlyphs">Soil moisture (%)</text>
<text x="462.80" y="447.60" font-size="14.5" textLength="102.40" lengthAdjust="spacingAndGlyphs">Soil moisture (%)</text>
<text transform="translate(13.90 170.20) rotate(-90)" x="0" y="0" font-size="13.5" textLength="120.60" lengthAdjust="spacingAndGlyphs">ER (mg CO<tspan dy="2.8" font-size="9.5">2</tspan><tspan dy="-2.8"> m</tspan><tspan dy="-4.6" font-size="9.5">-2</tspan><tspan dy="4.6"> h</tspan><tspan dy="-4.6" font-size="9.5">-1</tspan><tspan dy="4.6">)</tspan></text>
<text transform="translate(15.80 388.40) rotate(-90)" x="0" y="0" font-size="13.5" textLength="122.40" lengthAdjust="spacingAndGlyphs">ER (mg CO<tspan dy="2.8" font-size="9.5">2</tspan><tspan dy="-2.8"> m</tspan><tspan dy="-4.6" font-size="9.5">-2</tspan><tspan dy="4.6"> h</tspan><tspan dy="-4.6" font-size="9.5">-1</tspan><tspan dy="4.6">)</tspan></text>
<text transform="translate(349.20 141.60) rotate(-90)" x="0" y="0" font-size="13.5" textLength="59.60" lengthAdjust="spacingAndGlyphs">Q<tspan dy="2.8" font-size="9.5">10</tspan><tspan dy="-2.8"> values</tspan></text>
<text transform="translate(351.50 359.80) rotate(-90)" x="0" y="0" font-size="13.5" textLength="60.00" lengthAdjust="spacingAndGlyphs">Q<tspan dy="2.8" font-size="9.5">10</tspan><tspan dy="-2.8"> values</tspan></text>
</svg>
</body></html>
